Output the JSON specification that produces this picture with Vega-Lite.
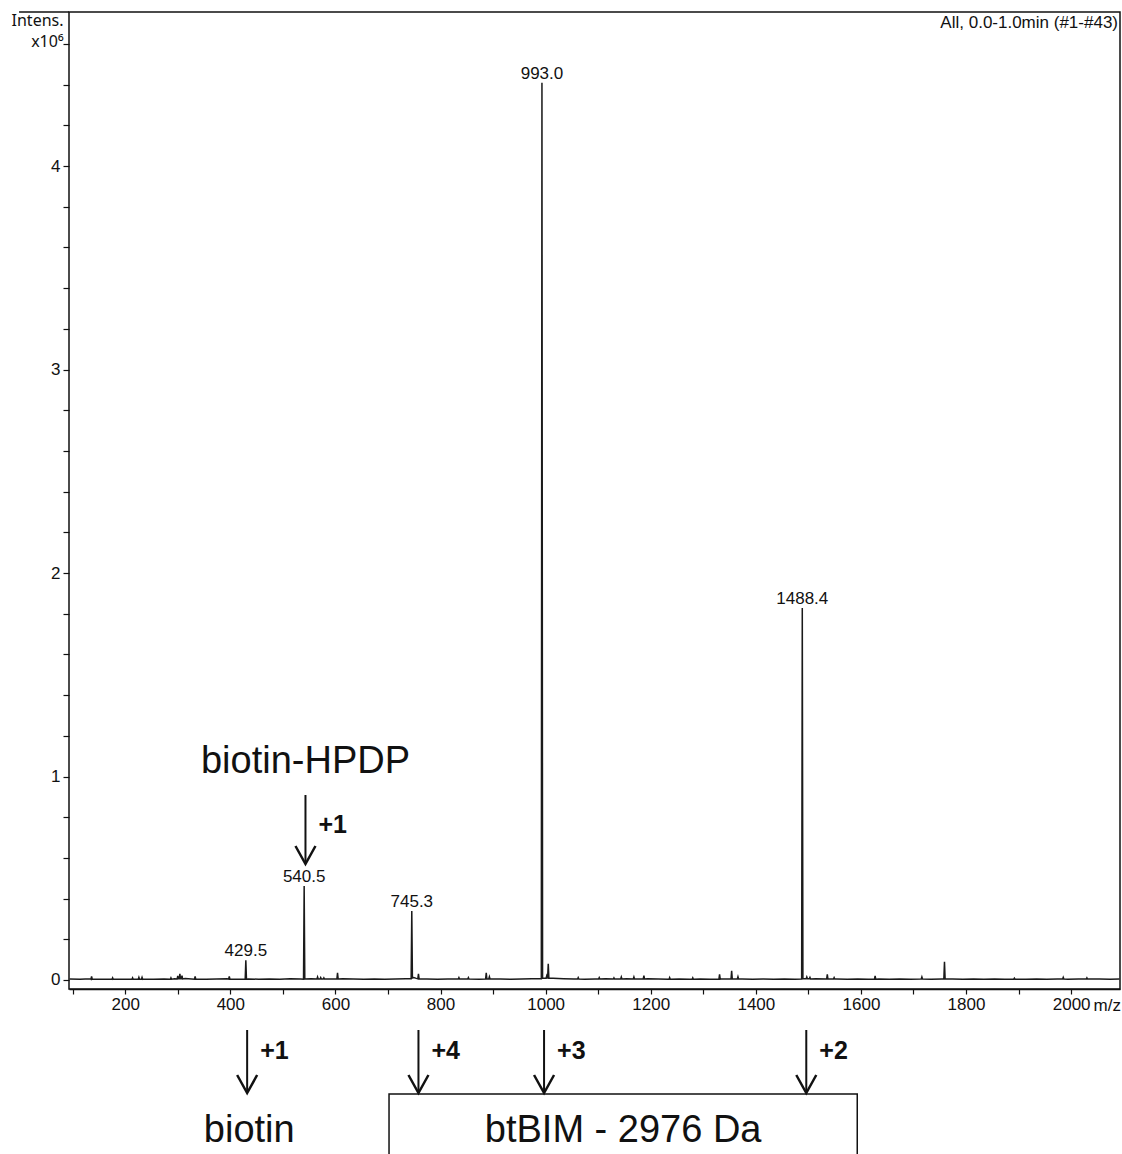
{
"$schema": "https://vega.github.io/schema/vega-lite/v6.json",
"background": "white",
"padding": {"left": 11, "top": 11, "right": 0, "bottom": 0},
"width": 1051,
"height": 1143,
"view": {"stroke": null},
"config": {
  "font": "Liberation Sans",
  "axis": {"grid": false, "domainColor": "#111", "domainWidth": 1.5, "tickColor": "#111", "tickWidth": 1.2, "labelColor": "#111", "titleColor": "#111", "labelFont": "Liberation Sans", "titleFont": "Liberation Sans", "labelFontSize": 17, "titleFontSize": 17, "titleFontWeight": "normal"}
},
"datasets": {
  "spectrum": [
{"mz":94,"intensity":0.005},{"mz":114,"intensity":0.004},{"mz":134,"intensity":0.006},{"mz":134.8,"intensity":0.004},{"mz":136,"intensity":0.018},{"mz":137.2,"intensity":0.004},{"mz":154,"intensity":0.004},{"mz":174,"intensity":0.005},{"mz":174.8,"intensity":0.004},{"mz":176,"intensity":0.011},{"mz":177.2,"intensity":0.004},{"mz":194,"intensity":0.004},{"mz":212.8,"intensity":0.004},{"mz":214,"intensity":0.011},{"mz":215.2,"intensity":0.004},{"mz":224.8,"intensity":0.004},{"mz":226,"intensity":0.013},{"mz":227.2,"intensity":0.004},{"mz":230.8,"intensity":0.004},{"mz":232,"intensity":0.013},{"mz":233.2,"intensity":0.004},{"mz":234,"intensity":0.005},{"mz":254,"intensity":0.004},{"mz":274,"intensity":0.005},{"mz":285.8,"intensity":0.004},{"mz":287,"intensity":0.011},{"mz":288.2,"intensity":0.004},{"mz":294,"intensity":0.006},{"mz":298.8,"intensity":0.005},{"mz":300,"intensity":0.02},{"mz":301.2,"intensity":0.006},{"mz":302.8,"intensity":0.006},{"mz":304,"intensity":0.03},{"mz":305.2,"intensity":0.006},{"mz":306.8,"intensity":0.006},{"mz":308,"intensity":0.022},{"mz":309.2,"intensity":0.005},{"mz":314,"intensity":0.007},{"mz":331.8,"intensity":0.004},{"mz":333,"intensity":0.018},{"mz":334.2,"intensity":0.004},{"mz":354,"intensity":0.004},{"mz":374,"intensity":0.005},{"mz":394,"intensity":0.006},{"mz":396.8,"intensity":0.004},{"mz":398,"intensity":0.018},{"mz":399.2,"intensity":0.004},{"mz":414,"intensity":0.004},{"mz":428.3,"intensity":0.004},{"mz":429.5,"intensity":0.097},{"mz":430.7,"intensity":0.004},{"mz":434,"intensity":0.005},{"mz":454,"intensity":0.004},{"mz":474,"intensity":0.005},{"mz":494,"intensity":0.004},{"mz":514,"intensity":0.006},{"mz":534,"intensity":0.005},{"mz":539.3,"intensity":0.004},{"mz":540.5,"intensity":0.462},{"mz":541.7,"intensity":0.005},{"mz":554,"intensity":0.006},{"mz":564.8,"intensity":0.005},{"mz":566,"intensity":0.015},{"mz":567.2,"intensity":0.005},{"mz":570.8,"intensity":0.005},{"mz":572,"intensity":0.012},{"mz":573.2,"intensity":0.005},{"mz":576.8,"intensity":0.005},{"mz":578,"intensity":0.011},{"mz":579.2,"intensity":0.005},{"mz":594,"intensity":0.005},{"mz":602.8,"intensity":0.005},{"mz":604,"intensity":0.035},{"mz":605.2,"intensity":0.005},{"mz":614,"intensity":0.006},{"mz":634,"intensity":0.005},{"mz":654,"intensity":0.004},{"mz":674,"intensity":0.005},{"mz":694,"intensity":0.004},{"mz":714,"intensity":0.005},{"mz":734,"intensity":0.006},{"mz":744.1,"intensity":0.006},{"mz":745.3,"intensity":0.339},{"mz":746.5,"intensity":0.01},{"mz":749,"intensity":0.012},{"mz":754,"intensity":0.008},{"mz":756.8,"intensity":0.006},{"mz":758,"intensity":0.03},{"mz":759.2,"intensity":0.006},{"mz":774,"intensity":0.005},{"mz":794,"intensity":0.004},{"mz":814,"intensity":0.005},{"mz":833.8,"intensity":0.005},{"mz":835,"intensity":0.012},{"mz":836.2,"intensity":0.005},{"mz":851.8,"intensity":0.005},{"mz":853,"intensity":0.012},{"mz":854.2,"intensity":0.005},{"mz":874,"intensity":0.004},{"mz":885.8,"intensity":0.005},{"mz":887,"intensity":0.035},{"mz":888.2,"intensity":0.005},{"mz":891.8,"intensity":0.005},{"mz":893,"intensity":0.016},{"mz":894.2,"intensity":0.005},{"mz":914,"intensity":0.005},{"mz":934,"intensity":0.004},{"mz":954,"intensity":0.005},{"mz":974,"intensity":0.006},{"mz":991.8,"intensity":0.006},{"mz":993,"intensity":4.409},{"mz":994.2,"intensity":0.008},{"mz":1000.8,"intensity":0.008},{"mz":1002,"intensity":0.02},{"mz":1003.2,"intensity":0.01},{"mz":1003.8,"intensity":0.01},{"mz":1005,"intensity":0.08},{"mz":1006.2,"intensity":0.008},{"mz":1014,"intensity":0.008},{"mz":1034,"intensity":0.006},{"mz":1054,"intensity":0.005},{"mz":1060.8,"intensity":0.005},{"mz":1062,"intensity":0.012},{"mz":1063.2,"intensity":0.005},{"mz":1074,"intensity":0.004},{"mz":1094,"intensity":0.005},{"mz":1100.8,"intensity":0.005},{"mz":1102,"intensity":0.012},{"mz":1103.2,"intensity":0.005},{"mz":1114,"intensity":0.006},{"mz":1128.8,"intensity":0.005},{"mz":1130,"intensity":0.011},{"mz":1131.2,"intensity":0.005},{"mz":1142.8,"intensity":0.005},{"mz":1144,"intensity":0.015},{"mz":1145.2,"intensity":0.005},{"mz":1154,"intensity":0.006},{"mz":1166.8,"intensity":0.005},{"mz":1168,"intensity":0.015},{"mz":1169.2,"intensity":0.005},{"mz":1174,"intensity":0.005},{"mz":1185.8,"intensity":0.005},{"mz":1187,"intensity":0.022},{"mz":1188.2,"intensity":0.005},{"mz":1194,"intensity":0.006},{"mz":1214,"intensity":0.005},{"mz":1234,"intensity":0.004},{"mz":1234.8,"intensity":0.004},{"mz":1236,"intensity":0.012},{"mz":1237.2,"intensity":0.004},{"mz":1254,"intensity":0.005},{"mz":1274,"intensity":0.004},{"mz":1278.8,"intensity":0.004},{"mz":1280,"intensity":0.011},{"mz":1281.2,"intensity":0.004},{"mz":1294,"intensity":0.005},{"mz":1314,"intensity":0.004},{"mz":1329.8,"intensity":0.004},{"mz":1331,"intensity":0.028},{"mz":1332.2,"intensity":0.004},{"mz":1334,"intensity":0.005},{"mz":1352.8,"intensity":0.005},{"mz":1354,"intensity":0.045},{"mz":1355.2,"intensity":0.005},{"mz":1364.8,"intensity":0.005},{"mz":1366,"intensity":0.016},{"mz":1367.2,"intensity":0.005},{"mz":1374,"intensity":0.005},{"mz":1394,"intensity":0.004},{"mz":1414,"intensity":0.005},{"mz":1434,"intensity":0.004},{"mz":1454,"intensity":0.005},{"mz":1474,"intensity":0.004},{"mz":1487.2,"intensity":0.005},{"mz":1488.4,"intensity":1.828},{"mz":1489.6,"intensity":0.006},{"mz":1495.8,"intensity":0.006},{"mz":1497,"intensity":0.015},{"mz":1498.2,"intensity":0.006},{"mz":1501.8,"intensity":0.006},{"mz":1503,"intensity":0.013},{"mz":1504.2,"intensity":0.005},{"mz":1514,"intensity":0.006},{"mz":1534,"intensity":0.005},{"mz":1534.8,"intensity":0.005},{"mz":1536,"intensity":0.028},{"mz":1537.2,"intensity":0.005},{"mz":1547.8,"intensity":0.005},{"mz":1549,"intensity":0.012},{"mz":1550.2,"intensity":0.005},{"mz":1554,"intensity":0.005},{"mz":1574,"intensity":0.004},{"mz":1594,"intensity":0.005},{"mz":1614,"intensity":0.004},{"mz":1625.8,"intensity":0.004},{"mz":1627,"intensity":0.02},{"mz":1628.2,"intensity":0.004},{"mz":1634,"intensity":0.005},{"mz":1654,"intensity":0.004},{"mz":1674,"intensity":0.005},{"mz":1694,"intensity":0.004},{"mz":1714,"intensity":0.005},{"mz":1714.8,"intensity":0.005},{"mz":1716,"intensity":0.015},{"mz":1717.2,"intensity":0.005},{"mz":1734,"intensity":0.004},{"mz":1754,"intensity":0.005},{"mz":1757.8,"intensity":0.005},{"mz":1759,"intensity":0.09},{"mz":1760.2,"intensity":0.005},{"mz":1774,"intensity":0.005},{"mz":1794,"intensity":0.004},{"mz":1814,"intensity":0.005},{"mz":1834,"intensity":0.004},{"mz":1854,"intensity":0.005},{"mz":1874,"intensity":0.004},{"mz":1890.8,"intensity":0.004},{"mz":1892,"intensity":0.009},{"mz":1893.2,"intensity":0.004},{"mz":1914,"intensity":0.004},{"mz":1934,"intensity":0.005},{"mz":1954,"intensity":0.004},{"mz":1974,"intensity":0.005},{"mz":1983.8,"intensity":0.005},{"mz":1985,"intensity":0.013},{"mz":1986.2,"intensity":0.005},{"mz":1994,"intensity":0.004},{"mz":2014,"intensity":0.005},{"mz":2028.8,"intensity":0.005},{"mz":2030,"intensity":0.011},{"mz":2031.2,"intensity":0.005},{"mz":2054,"intensity":0.005},{"mz":2074,"intensity":0.004},{"mz":2092,"intensity":0.005}
  ],
  "peaks": [
    {"mz": 429.5, "intensity": 0.097, "label": "429.5"},
    {"mz": 540.5, "intensity": 0.462, "label": "540.5"},
    {"mz": 745.3, "intensity": 0.339, "label": "745.3"},
    {"mz": 993.0, "intensity": 4.409, "label": "993.0"},
    {"mz": 1488.4, "intensity": 1.828, "label": "1488.4"}
  ],
  "topAnnot": [{"mz": 543, "name": "biotin-HPDP", "charge": "+1"}],
  "notes": [{"note": "All, 0.0-1.0min (#1-#43)"}],
  "bottomArrows": [
    {"mz": 432, "charge": "+1"},
    {"mz": 758, "charge": "+4"},
    {"mz": 997, "charge": "+3"},
    {"mz": 1496, "charge": "+2"}
  ],
  "molecules": [
    {"name": "biotin", "mz": 436},
    {"name": "btBIM - 2976 Da", "mz": 1147.5, "start": 702, "end": 1593}
  ]
},
"layer": [
  {
    "data": {"name": "notes"},
    "mark": {"type": "rect", "fill": "transparent", "stroke": "#111", "strokeWidth": 1.5},
    "encoding": {
      "x": {"datum": 93, "type": "quantitative", "scale": {"domain": [93, 2093], "nice": false, "zero": false}},
      "x2": {"datum": 2093},
      "y": {"datum": -0.044, "type": "quantitative", "scale": {"domain": [-0.86, 4.757], "nice": false, "zero": false}},
      "y2": {"datum": 4.757}
    }
  },
  {
    "data": {"name": "notes"},
    "mark": {"type": "rule", "color": "#111", "strokeWidth": 1.5},
    "encoding": {
      "x": {"datum": -2, "type": "quantitative", "scale": {"domain": [93, 2093], "nice": false, "zero": false}},
      "x2": {"datum": 93},
      "y": {"datum": 4.757, "type": "quantitative", "scale": {"domain": [-0.86, 4.757], "nice": false, "zero": false}}
    }
  },
  {
    "data": {"name": "spectrum"},
    "mark": {"type": "line", "color": "#1a1a1a", "strokeWidth": 1.5},
    "encoding": {
      "x": {"field": "mz", "type": "quantitative",
            "scale": {"domain": [93, 2093], "nice": false, "zero": false},
            "axis": {"values": [100,200,300,400,500,600,700,800,900,1000,1100,1200,1300,1400,1500,1600,1700,1800,1900,2000],
                     "tickCount": 60, "tickMinStep": 1,
                     "labelExpr": "datum.value % 200 == 0 ? format(datum.value, 'd') : ''",
                     "offset": -166, "tickSize": 5, "labelPadding": 2, "labelOverlap": false, "labelFlush": false,
                     "title": "m/z", "titleX": 1024, "titleY": 21, "titleAlign": "left", "titleBaseline": "alphabetic"}},
      "y": {"field": "intensity", "type": "quantitative",
            "scale": {"domain": [-0.86, 4.757], "nice": false, "zero": false},
            "axis": {"values": [0,0.2,0.4,0.6,0.8,1,1.2,1.4,1.6,1.8,2,2.2,2.4,2.6,2.8,3,3.2,3.4,3.6,3.8,4,4.2,4.4,4.6],
                     "tickCount": 60, "tickMinStep": 0.05,
                     "labelExpr": "datum.value == round(datum.value) ? format(datum.value, 'd') : ''",
                     "domain": false, "tickSize": 6, "labelPadding": 3, "labelOverlap": false, "labelFlush": false,
                     "title": ["Intens.", "x10⁶"], "titleFont": "Noto Sans", "titleFontSize": 16, "titleAngle": 0, "titleAlign": "right", "titleBaseline": "top",
                     "titleX": -6, "titleY": 0, "titleLineHeight": 21}}
    }
  },
  {
    "data": {"name": "peaks"},
    "mark": {"type": "text", "fontSize": 17, "color": "#111", "align": "center", "baseline": "alphabetic", "dy": -4},
    "encoding": {
      "x": {"field": "mz", "type": "quantitative", "scale": {"domain": [93, 2093], "nice": false, "zero": false}},
      "y": {"field": "intensity", "type": "quantitative", "scale": {"domain": [-0.86, 4.757], "nice": false, "zero": false}},
      "text": {"field": "label"}
    }
  },
  {
    "data": {"name": "topAnnot"},
    "mark": {"type": "rule", "color": "#111", "strokeWidth": 2},
    "encoding": {
      "x": {"field": "mz", "type": "quantitative", "scale": {"domain": [93, 2093], "nice": false, "zero": false}},
      "y": {"datum": 0.909, "type": "quantitative", "scale": {"domain": [-0.86, 4.757], "nice": false, "zero": false}},
      "y2": {"datum": 0.575}
    }
  },
  {
    "data": {"name": "topAnnot"},
    "mark": {"type": "point", "shape": "M -1 -1.8 L 0 0 L 1 -1.8", "filled": false, "color": "#111", "strokeWidth": 2.5, "opacity": 1, "size": 400},
    "encoding": {
      "x": {"field": "mz", "type": "quantitative", "scale": {"domain": [93, 2093], "nice": false, "zero": false}},
      "y": {"datum": 0.57, "type": "quantitative", "scale": {"domain": [-0.86, 4.757], "nice": false, "zero": false}}
    }
  },
  {
    "data": {"name": "topAnnot"},
    "mark": {"type": "text", "fontSize": 25, "fontWeight": "bold", "color": "#111", "align": "left", "baseline": "middle", "dx": 13},
    "encoding": {
      "x": {"field": "mz", "type": "quantitative", "scale": {"domain": [93, 2093], "nice": false, "zero": false}},
      "y": {"datum": 0.762, "type": "quantitative", "scale": {"domain": [-0.86, 4.757], "nice": false, "zero": false}},
      "text": {"field": "charge"}
    }
  },
  {
    "data": {"name": "topAnnot"},
    "mark": {"type": "text", "fontSize": 38, "color": "#111", "align": "center", "baseline": "alphabetic"},
    "encoding": {
      "x": {"field": "mz", "type": "quantitative", "scale": {"domain": [93, 2093], "nice": false, "zero": false}},
      "y": {"datum": 1.017, "type": "quantitative", "scale": {"domain": [-0.86, 4.757], "nice": false, "zero": false}},
      "text": {"field": "name"}
    }
  },
  {
    "data": {"name": "notes"},
    "mark": {"type": "text", "fontSize": 17, "color": "#111", "align": "right", "baseline": "alphabetic", "dx": -2},
    "encoding": {
      "x": {"datum": 2093, "type": "quantitative", "scale": {"domain": [93, 2093], "nice": false, "zero": false}},
      "y": {"datum": 4.678, "type": "quantitative", "scale": {"domain": [-0.86, 4.757], "nice": false, "zero": false}},
      "text": {"field": "note"}
    }
  },
  {
    "data": {"name": "molecules"},
    "transform": [{"filter": "isValid(datum.start)"}],
    "mark": {"type": "rect", "fill": "transparent", "stroke": "#111", "strokeWidth": 1.5, "clip": true},
    "encoding": {
      "x": {"field": "start", "type": "quantitative", "scale": {"domain": [93, 2093], "nice": false, "zero": false}},
      "x2": {"field": "end"},
      "y": {"datum": -0.5602, "type": "quantitative", "scale": {"domain": [-0.86, 4.757], "nice": false, "zero": false}},
      "y2": {"datum": -1.2}
    }
  },
  {
    "data": {"name": "bottomArrows"},
    "mark": {"type": "rule", "color": "#111", "strokeWidth": 2},
    "encoding": {
      "x": {"field": "mz", "type": "quantitative", "scale": {"domain": [93, 2093], "nice": false, "zero": false}},
      "y": {"datum": -0.2457, "type": "quantitative", "scale": {"domain": [-0.86, 4.757], "nice": false, "zero": false}},
      "y2": {"datum": -0.5504}
    }
  },
  {
    "data": {"name": "bottomArrows"},
    "mark": {"type": "point", "shape": "M -1 -1.8 L 0 0 L 1 -1.8", "filled": false, "color": "#111", "strokeWidth": 2.5, "opacity": 1, "size": 400},
    "encoding": {
      "x": {"field": "mz", "type": "quantitative", "scale": {"domain": [93, 2093], "nice": false, "zero": false}},
      "y": {"datum": -0.5553, "type": "quantitative", "scale": {"domain": [-0.86, 4.757], "nice": false, "zero": false}}
    }
  },
  {
    "data": {"name": "bottomArrows"},
    "mark": {"type": "text", "fontSize": 25, "fontWeight": "bold", "color": "#111", "align": "left", "baseline": "middle", "dx": 13},
    "encoding": {
      "x": {"field": "mz", "type": "quantitative", "scale": {"domain": [93, 2093], "nice": false, "zero": false}},
      "y": {"datum": -0.3489, "type": "quantitative", "scale": {"domain": [-0.86, 4.757], "nice": false, "zero": false}},
      "text": {"field": "charge"}
    }
  },
  {
    "data": {"name": "molecules"},
    "mark": {"type": "text", "fontSize": 38, "color": "#111", "align": "center", "baseline": "alphabetic"},
    "encoding": {
      "x": {"field": "mz", "type": "quantitative", "scale": {"domain": [93, 2093], "nice": false, "zero": false}},
      "y": {"datum": -0.7961, "type": "quantitative", "scale": {"domain": [-0.86, 4.757], "nice": false, "zero": false}},
      "text": {"field": "name"}
    }
  }
]
}
